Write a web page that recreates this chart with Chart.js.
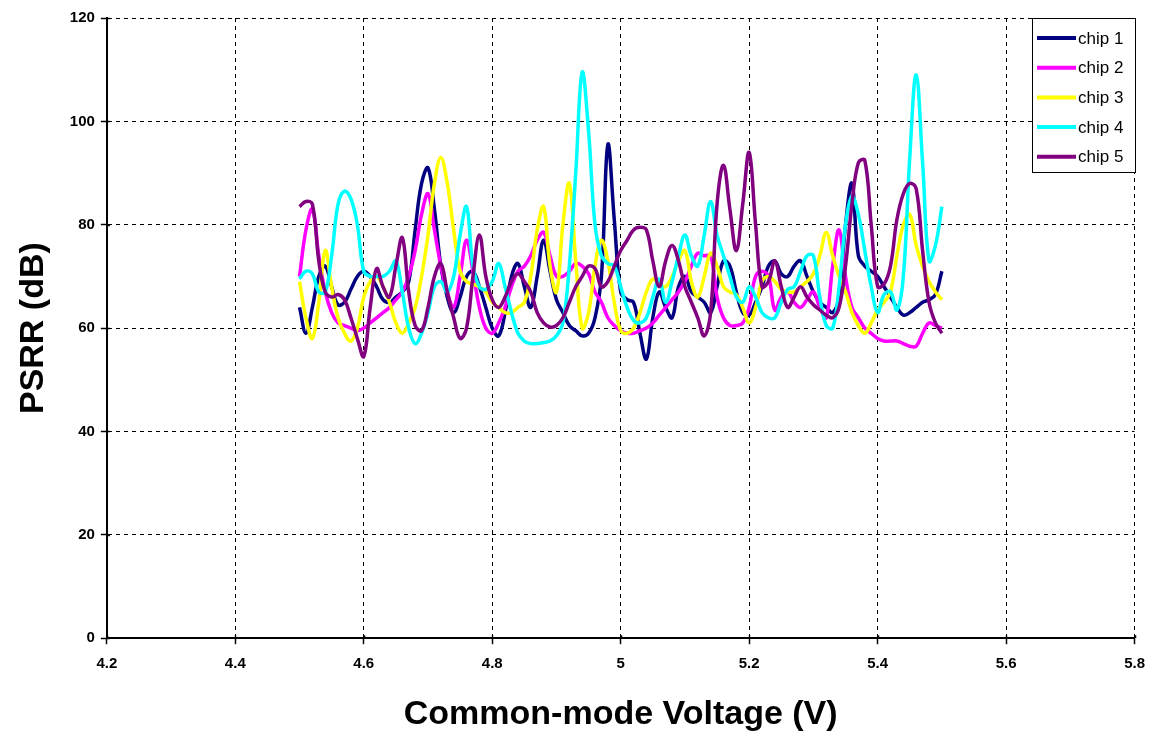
<html>
<head>
<script src="https://cdn.jsdelivr.net/npm/chart.js"></script>
<style>
  body { margin: 0; background: #fff; }
  #wrap { width: 1156px; height: 737px; }
</style>
</head>
<body>
<div id="wrap"><canvas id="myChart"></canvas></div>
<script>
// common-mode voltage sweep (V)
const volts = [
  4.50, 4.51, 4.52, 4.53, 4.54, 4.55, 4.56, 4.57, 4.58, 4.59,
  4.60, 4.61, 4.62, 4.63, 4.64, 4.65, 4.66, 4.67, 4.68, 4.69,
  4.70, 4.71, 4.72, 4.73, 4.74, 4.75, 4.76, 4.77, 4.78, 4.79,
  4.80, 4.81, 4.82, 4.83, 4.84, 4.85, 4.86, 4.87, 4.88, 4.89,
  4.90, 4.91, 4.92, 4.93, 4.94, 4.95, 4.96, 4.97, 4.98, 4.99,
  5.00, 5.01, 5.02, 5.03, 5.04, 5.05, 5.06, 5.07, 5.08, 5.09,
  5.10, 5.11, 5.12, 5.13, 5.14, 5.15, 5.16, 5.17, 5.18, 5.19,
  5.20, 5.21, 5.22, 5.23, 5.24, 5.25, 5.26, 5.27, 5.28, 5.29,
  5.30, 5.31, 5.32, 5.33, 5.34, 5.35, 5.36, 5.37, 5.38, 5.39,
  5.40, 5.41, 5.42, 5.43, 5.44, 5.45, 5.46, 5.47, 5.48, 5.49,
  5.50
];

// PSRR in dB, one list per chip
const chip1 = [
  64, 59, 64, 70, 72, 68, 64.5, 65, 67.5, 70,
  71, 70, 68, 65.5, 65, 66, 67, 69, 79, 88,
  91, 83, 72, 66, 63, 66, 70, 71, 68, 64,
  60, 58.5, 63, 70, 72.5, 68, 64, 70, 77, 71,
  65.5, 63, 60.5, 59.5, 58.5, 59, 62, 70, 95.5, 81,
  67, 65.5, 65, 59, 54, 62, 67, 64, 62, 68,
  70, 67, 66, 65, 63, 68, 73, 72, 67, 63,
  62.5, 65, 68, 72, 73, 70.5, 70, 72, 73, 70,
  67, 65, 64, 63, 66, 80, 88, 74, 72, 71,
  70, 68, 66, 64, 62.5, 63, 64, 65, 65.5, 66.5,
  71
];
const chip2 = [
  70, 79, 83, 74, 67, 63, 61, 60.5, 60, 59.5,
  60, 61, 62, 63, 64, 65.5, 67, 70, 75, 82,
  86, 79, 72, 67, 64, 70, 77, 71, 64, 60,
  59, 61, 64, 68, 71, 72, 74, 77, 78.5, 74,
  70, 70, 71, 72.5, 72, 70.5, 67, 65, 62, 60.5,
  59.5, 59, 59, 59.5, 60, 61, 62.5, 64, 65.5, 67,
  69, 72, 74.5, 74, 74, 66, 62, 60.5, 60.5, 61,
  64, 70, 71, 70, 63.5, 66, 67, 65, 64, 65.5,
  67, 64, 62, 72, 79, 70, 64, 62, 60, 59,
  58, 57.5, 57.5, 57.5, 57, 56.5, 56.5, 59, 61, 60.5,
  60
];
const chip3 = [
  69, 62, 58, 65, 75, 68, 62, 59, 57.5, 60,
  66, 69, 70, 68, 65, 61, 59, 61, 64, 70,
  78, 88, 93, 88, 79, 71, 69, 68.5, 68, 67,
  65, 64, 63, 63, 64, 65, 70, 79, 83.5, 72,
  67, 80, 88, 73, 60, 63, 72, 77, 73, 65,
  59.5, 59, 60, 63, 67, 69.5, 68.5, 68, 70, 73,
  75, 69, 66, 70, 74.5, 72, 68, 67, 66.5, 64,
  61, 64, 69, 70, 69, 67.5, 67, 67, 68, 69,
  70.5, 74, 78.5, 74, 70, 67, 63, 60.5, 59, 61,
  63.5, 65, 67, 74, 80, 82, 76, 72, 69, 67,
  65.5
];
const chip4 = [
  69.5, 71, 70.5, 67, 67, 74, 84, 86.5, 85, 80,
  71, 70, 70, 70, 71, 73, 67, 60, 57, 59,
  63, 68, 69, 67, 70, 78, 83.5, 72, 68, 67.5,
  69, 72.5, 68, 63, 59, 57.5, 57, 57, 57.2, 57.5,
  58.5, 61, 72, 90, 109.5, 98, 80, 74, 72.5, 72,
  68, 64, 61.5, 61, 62, 66, 69.5, 65, 69, 74,
  78, 74, 72, 78, 84.5, 78, 74, 70, 66, 65,
  68, 66, 63, 62, 62, 65, 67.5, 68, 71, 74,
  74, 66, 60.5, 60, 68, 80, 85.5, 82, 75, 68,
  63, 66.5, 67, 63.5, 70, 93, 109, 92, 73, 76,
  83.5
];
const chip5 = [
  83.5, 84.5, 84, 73, 67, 66, 66.5, 65.5, 62, 58,
  54.5, 64, 71.5, 68, 66, 72, 77.5, 67, 60.5, 59.5,
  64, 70, 72.5, 67, 62, 58, 60, 70, 78, 70,
  65.5, 64, 66, 69, 70.5, 69, 67, 63, 61, 60.2,
  60.5, 62, 65, 68, 70, 72, 71.5, 68, 69, 72,
  75, 77, 79, 79.5, 79, 73, 68, 73, 76, 73,
  68, 65, 62, 58.5, 63, 84, 91.5, 83, 75, 84,
  94, 80, 68, 69, 73, 68, 64, 66, 68, 66,
  64.5, 63.5, 62.5, 62, 64, 72, 84, 92, 92.5, 80,
  68, 68.5, 72, 81, 86, 88, 87, 75, 65, 61,
  59
];

const chipNames = ['chip 1', 'chip 2', 'chip 3', 'chip 4', 'chip 5'];
const chipValues = [chip1, chip2, chip3, chip4, chip5];
const chipColors = ['#000080', '#FF00FF', '#FFFF00', '#00FFFF', '#800080'];

const FONT = '"Liberation Sans", Arial, sans-serif';

// short tick marks on the inner side of both axes (ticks cross the axis line)
const innerTicks = {
  id: 'innerTicks',
  afterDraw(chart) {
    const ctx = chart.ctx;
    const xs = chart.scales.x, ys = chart.scales.y;
    ctx.save();
    ctx.strokeStyle = '#000';
    ctx.lineWidth = 1.5;
    ctx.beginPath();
    xs.ticks.forEach(t => {
      const px = Math.round(xs.getPixelForValue(t.value)) + 0.5;
      ctx.moveTo(px, ys.bottom);
      ctx.lineTo(px, ys.bottom - 3);
    });
    ys.ticks.forEach(t => {
      const py = Math.round(ys.getPixelForValue(t.value)) + 0.5;
      ctx.moveTo(xs.left, py);
      ctx.lineTo(xs.left + 3, py);
    });
    ctx.stroke();
    ctx.restore();
  }
};

// boxed legend in the upper right corner of the plot
const boxLegend = {
  id: 'boxLegend',
  afterDraw(chart) {
    const ctx = chart.ctx;
    const area = chart.chartArea;
    const w = 103, h = 154;
    const x0 = Math.round(area.right) - w, y0 = Math.round(area.top);
    ctx.save();
    ctx.fillStyle = '#fff';
    ctx.fillRect(x0, y0, w, h);
    ctx.strokeStyle = '#000';
    ctx.lineWidth = 1;
    ctx.strokeRect(x0 + 0.5, y0 + 0.5, w, h);
    ctx.font = '17px ' + FONT;
    ctx.textBaseline = 'middle';
    chart.data.datasets.forEach((ds, i) => {
      const y = y0 + 20 + i * 29.7;
      ctx.strokeStyle = ds.borderColor;
      ctx.lineWidth = 4;
      ctx.beginPath();
      ctx.moveTo(x0 + 5, y);
      ctx.lineTo(x0 + 44, y);
      ctx.stroke();
      ctx.fillStyle = '#000';
      ctx.fillText(ds.label, x0 + 46, y + 1);
    });
    ctx.restore();
  }
};

const datasets = chipNames.map((name, i) => ({
  label: name,
  data: volts.map((v, k) => ({ x: v, y: chipValues[i][k] })),
  borderColor: chipColors[i],
  backgroundColor: chipColors[i],
  borderWidth: 3.5,
  pointRadius: 0,
  tension: 0.4,
  fill: false,
  order: chipNames.length - i
}));

new Chart(document.getElementById('myChart'), {
  type: 'line',
  data: { datasets: datasets },
  options: {
    responsive: true,
    maintainAspectRatio: false,
    animation: false,
    layout: { padding: { top: 18, right: 20, left: 8, bottom: 0 } },
    plugins: {
      legend: { display: false },
      tooltip: { enabled: false }
    },
    scales: {
      x: {
        type: 'linear',
        min: 4.2,
        max: 5.8,
        ticks: {
          stepSize: 0.2,
          color: '#000',
          padding: 11,
          font: { family: FONT, size: 15, weight: 'bold' },
          callback: v => String(Math.round(v * 10) / 10)
        },
        grid: { color: '#000', lineWidth: 1, tickLength: 6, tickColor: '#000', tickWidth: 1.5 },
        border: { display: true, color: '#000', width: 2, dash: [4, 4] },
        title: {
          display: true,
          text: 'Common-mode Voltage (V)',
          color: '#000',
          font: { family: FONT, size: 34, weight: 'bold' },
          padding: { top: 10, bottom: 2 }
        }
      },
      y: {
        min: 0,
        max: 120,
        ticks: {
          stepSize: 20,
          color: '#000',
          padding: 6,
          font: { family: FONT, size: 15, weight: 'bold' }
        },
        grid: { color: '#000', lineWidth: 1, tickLength: 6, tickColor: '#000', tickWidth: 1.5 },
        border: { display: true, color: '#000', width: 2, dash: [4, 4] },
        title: {
          display: true,
          text: 'PSRR (dB)',
          color: '#000',
          font: { family: FONT, size: 34, weight: 'bold' },
          padding: { top: 5, bottom: 10 }
        }
      }
    }
  },
  plugins: [innerTicks, boxLegend]
});
</script>
</body>
</html>
